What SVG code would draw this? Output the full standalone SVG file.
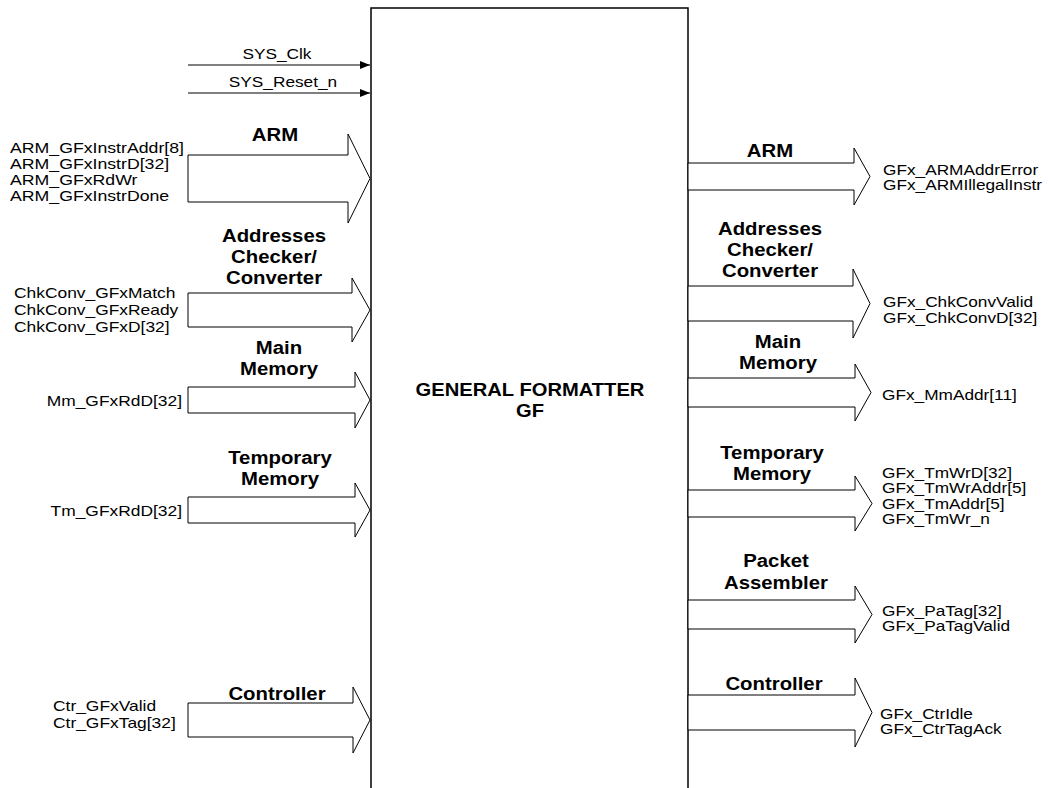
<svg xmlns="http://www.w3.org/2000/svg" width="1048" height="788" viewBox="0 0 1048 788">
<defs>
<marker id="ah" viewBox="0 0 10 8" refX="10" refY="4" markerWidth="10" markerHeight="8" markerUnits="userSpaceOnUse" orient="auto">
<path d="M0,0 L10,4 L0,8 Z" fill="#000"/>
</marker>
<style>
.bg{fill:#fff}
.box{fill:#fff;stroke:#000;stroke-width:1.5}
.arr{fill:#fff;stroke:#000;stroke-width:1}
.ln{stroke:#000;stroke-width:1;fill:none}
.sig{font-family:"Liberation Sans",Arial,sans-serif;font-size:15px;fill:#000}
.lbl{font-family:"Liberation Sans",Arial,sans-serif;font-size:18.5px;font-weight:bold;fill:#000;text-anchor:middle}
.ttl{font-family:"Liberation Sans",Arial,sans-serif;font-size:18px;font-weight:bold;fill:#000;text-anchor:middle}
.end{text-anchor:end}
.mid{text-anchor:middle}
</style>
</defs>
<rect class="bg" x="0" y="0" width="1048" height="788"/>

<g id="gf">
<rect class="box" x="371" y="8" width="317" height="800"/>
<text class="ttl" transform="translate(530,396) scale(1.12,1)">GENERAL FORMATTER</text>
<text class="ttl" transform="translate(530,417) scale(1.12,1)">GF</text>
</g>

<g id="connectors">
<line class="ln" x1="188" y1="65" x2="370" y2="65" marker-end="url(#ah)"/>
<line class="ln" x1="188" y1="93" x2="370" y2="93" marker-end="url(#ah)"/>
<polygon class="arr" points="188,155 348,155 348,134 370,178.5 348,223 348,202 188,202"/>
<polygon class="arr" points="188,293 352,293 352,278 370,310 352,342 352,327 188,327"/>
<polygon class="arr" points="188,387 355,387 355,372 370,400 355,428 355,413 188,413"/>
<polygon class="arr" points="188,497 355,497 355,483 370,510 355,537 355,523 188,523"/>
<polygon class="arr" points="188,703 353,703 353,687 370,720 353,753 353,737 188,737"/>
<polygon class="arr" points="688,163 854,163 854,148 870,176.5 854,205 854,190 688,190"/>
<polygon class="arr" points="688,286 853,286 853,269 870,303.5 853,338 853,321 688,321"/>
<polygon class="arr" points="688,378 855,378 855,364 871,392.5 855,421 855,407 688,407"/>
<polygon class="arr" points="688,490 855,490 855,476 872,503.5 855,531 855,517 688,517"/>
<polygon class="arr" points="688,600 855,600 855,586 872,614.5 855,643 855,629 688,629"/>
<polygon class="arr" points="688,695 855,695 855,678 872,712.5 855,747 855,730 688,730"/>
</g>

<g id="sys">
<text class="sig mid" transform="translate(277,58.5) scale(1.15,1)">SYS_Clk</text>
<text class="sig mid" transform="translate(283,86.5) scale(1.15,1)">SYS_Reset_n</text>
</g>

<g id="arm-in">
<text class="lbl" transform="translate(275,141) scale(1.1,1)">ARM</text>
<text class="sig" transform="translate(10,152.5) scale(1.18,1)">ARM_GFxInstrAddr[8]</text>
<text class="sig" transform="translate(10,168.5) scale(1.18,1)">ARM_GFxInstrD[32]</text>
<text class="sig" transform="translate(10,184.5) scale(1.18,1)">ARM_GFxRdWr</text>
<text class="sig" transform="translate(10,200.5) scale(1.18,1)">ARM_GFxInstrDone</text>
</g>

<g id="chk-in">
<text class="lbl" transform="translate(274,241.5) scale(1.1,1)">Addresses</text>
<text class="lbl" transform="translate(274,262.5) scale(1.1,1)">Checker/</text>
<text class="lbl" transform="translate(274,283.5) scale(1.1,1)">Converter</text>
<text class="sig" transform="translate(14,297.5) scale(1.16,1)">ChkConv_GFxMatch</text>
<text class="sig" transform="translate(14,314.5) scale(1.16,1)">ChkConv_GFxReady</text>
<text class="sig" transform="translate(14,331.5) scale(1.16,1)">ChkConv_GFxD[32]</text>
</g>

<g id="mm-in">
<text class="lbl" transform="translate(279,353.5) scale(1.1,1)">Main</text>
<text class="lbl" transform="translate(279,374.5) scale(1.1,1)">Memory</text>
<text class="sig end" transform="translate(182,405.5) scale(1.16,1)">Mm_GFxRdD[32]</text>
</g>

<g id="tm-in">
<text class="lbl" transform="translate(280,463.5) scale(1.1,1)">Temporary</text>
<text class="lbl" transform="translate(280,484.5) scale(1.1,1)">Memory</text>
<text class="sig end" transform="translate(182,515.5) scale(1.16,1)">Tm_GFxRdD[32]</text>
</g>

<g id="ctr-in">
<text class="lbl" transform="translate(277,699.5) scale(1.1,1)">Controller</text>
<text class="sig" transform="translate(53,710.5) scale(1.16,1)">Ctr_GFxValid</text>
<text class="sig" transform="translate(53,727.5) scale(1.16,1)">Ctr_GFxTag[32]</text>
</g>

<g id="arm-out">
<text class="lbl" transform="translate(770,156.5) scale(1.1,1)">ARM</text>
<text class="sig" transform="translate(883,174.5) scale(1.15,1)">GFx_ARMAddrError</text>
<text class="sig" transform="translate(883,189.5) scale(1.15,1)">GFx_ARMIllegalInstr</text>
</g>

<g id="chk-out">
<text class="lbl" transform="translate(770,234.5) scale(1.1,1)">Addresses</text>
<text class="lbl" transform="translate(770,255.5) scale(1.1,1)">Checker/</text>
<text class="lbl" transform="translate(770,276.5) scale(1.1,1)">Converter</text>
<text class="sig" transform="translate(883,306.5) scale(1.15,1)">GFx_ChkConvValid</text>
<text class="sig" transform="translate(883,322.5) scale(1.15,1)">GFx_ChkConvD[32]</text>
</g>

<g id="mm-out">
<text class="lbl" transform="translate(778,347.5) scale(1.1,1)">Main</text>
<text class="lbl" transform="translate(778,368.5) scale(1.1,1)">Memory</text>
<text class="sig" transform="translate(882,399.5) scale(1.15,1)">GFx_MmAddr[11]</text>
</g>

<g id="tm-out">
<text class="lbl" transform="translate(772,458.5) scale(1.1,1)">Temporary</text>
<text class="lbl" transform="translate(772,479.5) scale(1.1,1)">Memory</text>
<text class="sig" transform="translate(882,477.5) scale(1.15,1)">GFx_TmWrD[32]</text>
<text class="sig" transform="translate(882,492.5) scale(1.15,1)">GFx_TmWrAddr[5]</text>
<text class="sig" transform="translate(882,508.5) scale(1.15,1)">GFx_TmAddr[5]</text>
<text class="sig" transform="translate(882,523.5) scale(1.15,1)">GFx_TmWr_n</text>
</g>

<g id="pa-out">
<text class="lbl" transform="translate(776,566.5) scale(1.1,1)">Packet</text>
<text class="lbl" transform="translate(776,588.5) scale(1.1,1)">Assembler</text>
<text class="sig" transform="translate(882,615.5) scale(1.15,1)">GFx_PaTag[32]</text>
<text class="sig" transform="translate(882,630.5) scale(1.15,1)">GFx_PaTagValid</text>
</g>

<g id="ctr-out">
<text class="lbl" transform="translate(774,689.5) scale(1.1,1)">Controller</text>
<text class="sig" transform="translate(880,718.5) scale(1.15,1)">GFx_CtrIdle</text>
<text class="sig" transform="translate(880,733.5) scale(1.15,1)">GFx_CtrTagAck</text>
</g>
</svg>
